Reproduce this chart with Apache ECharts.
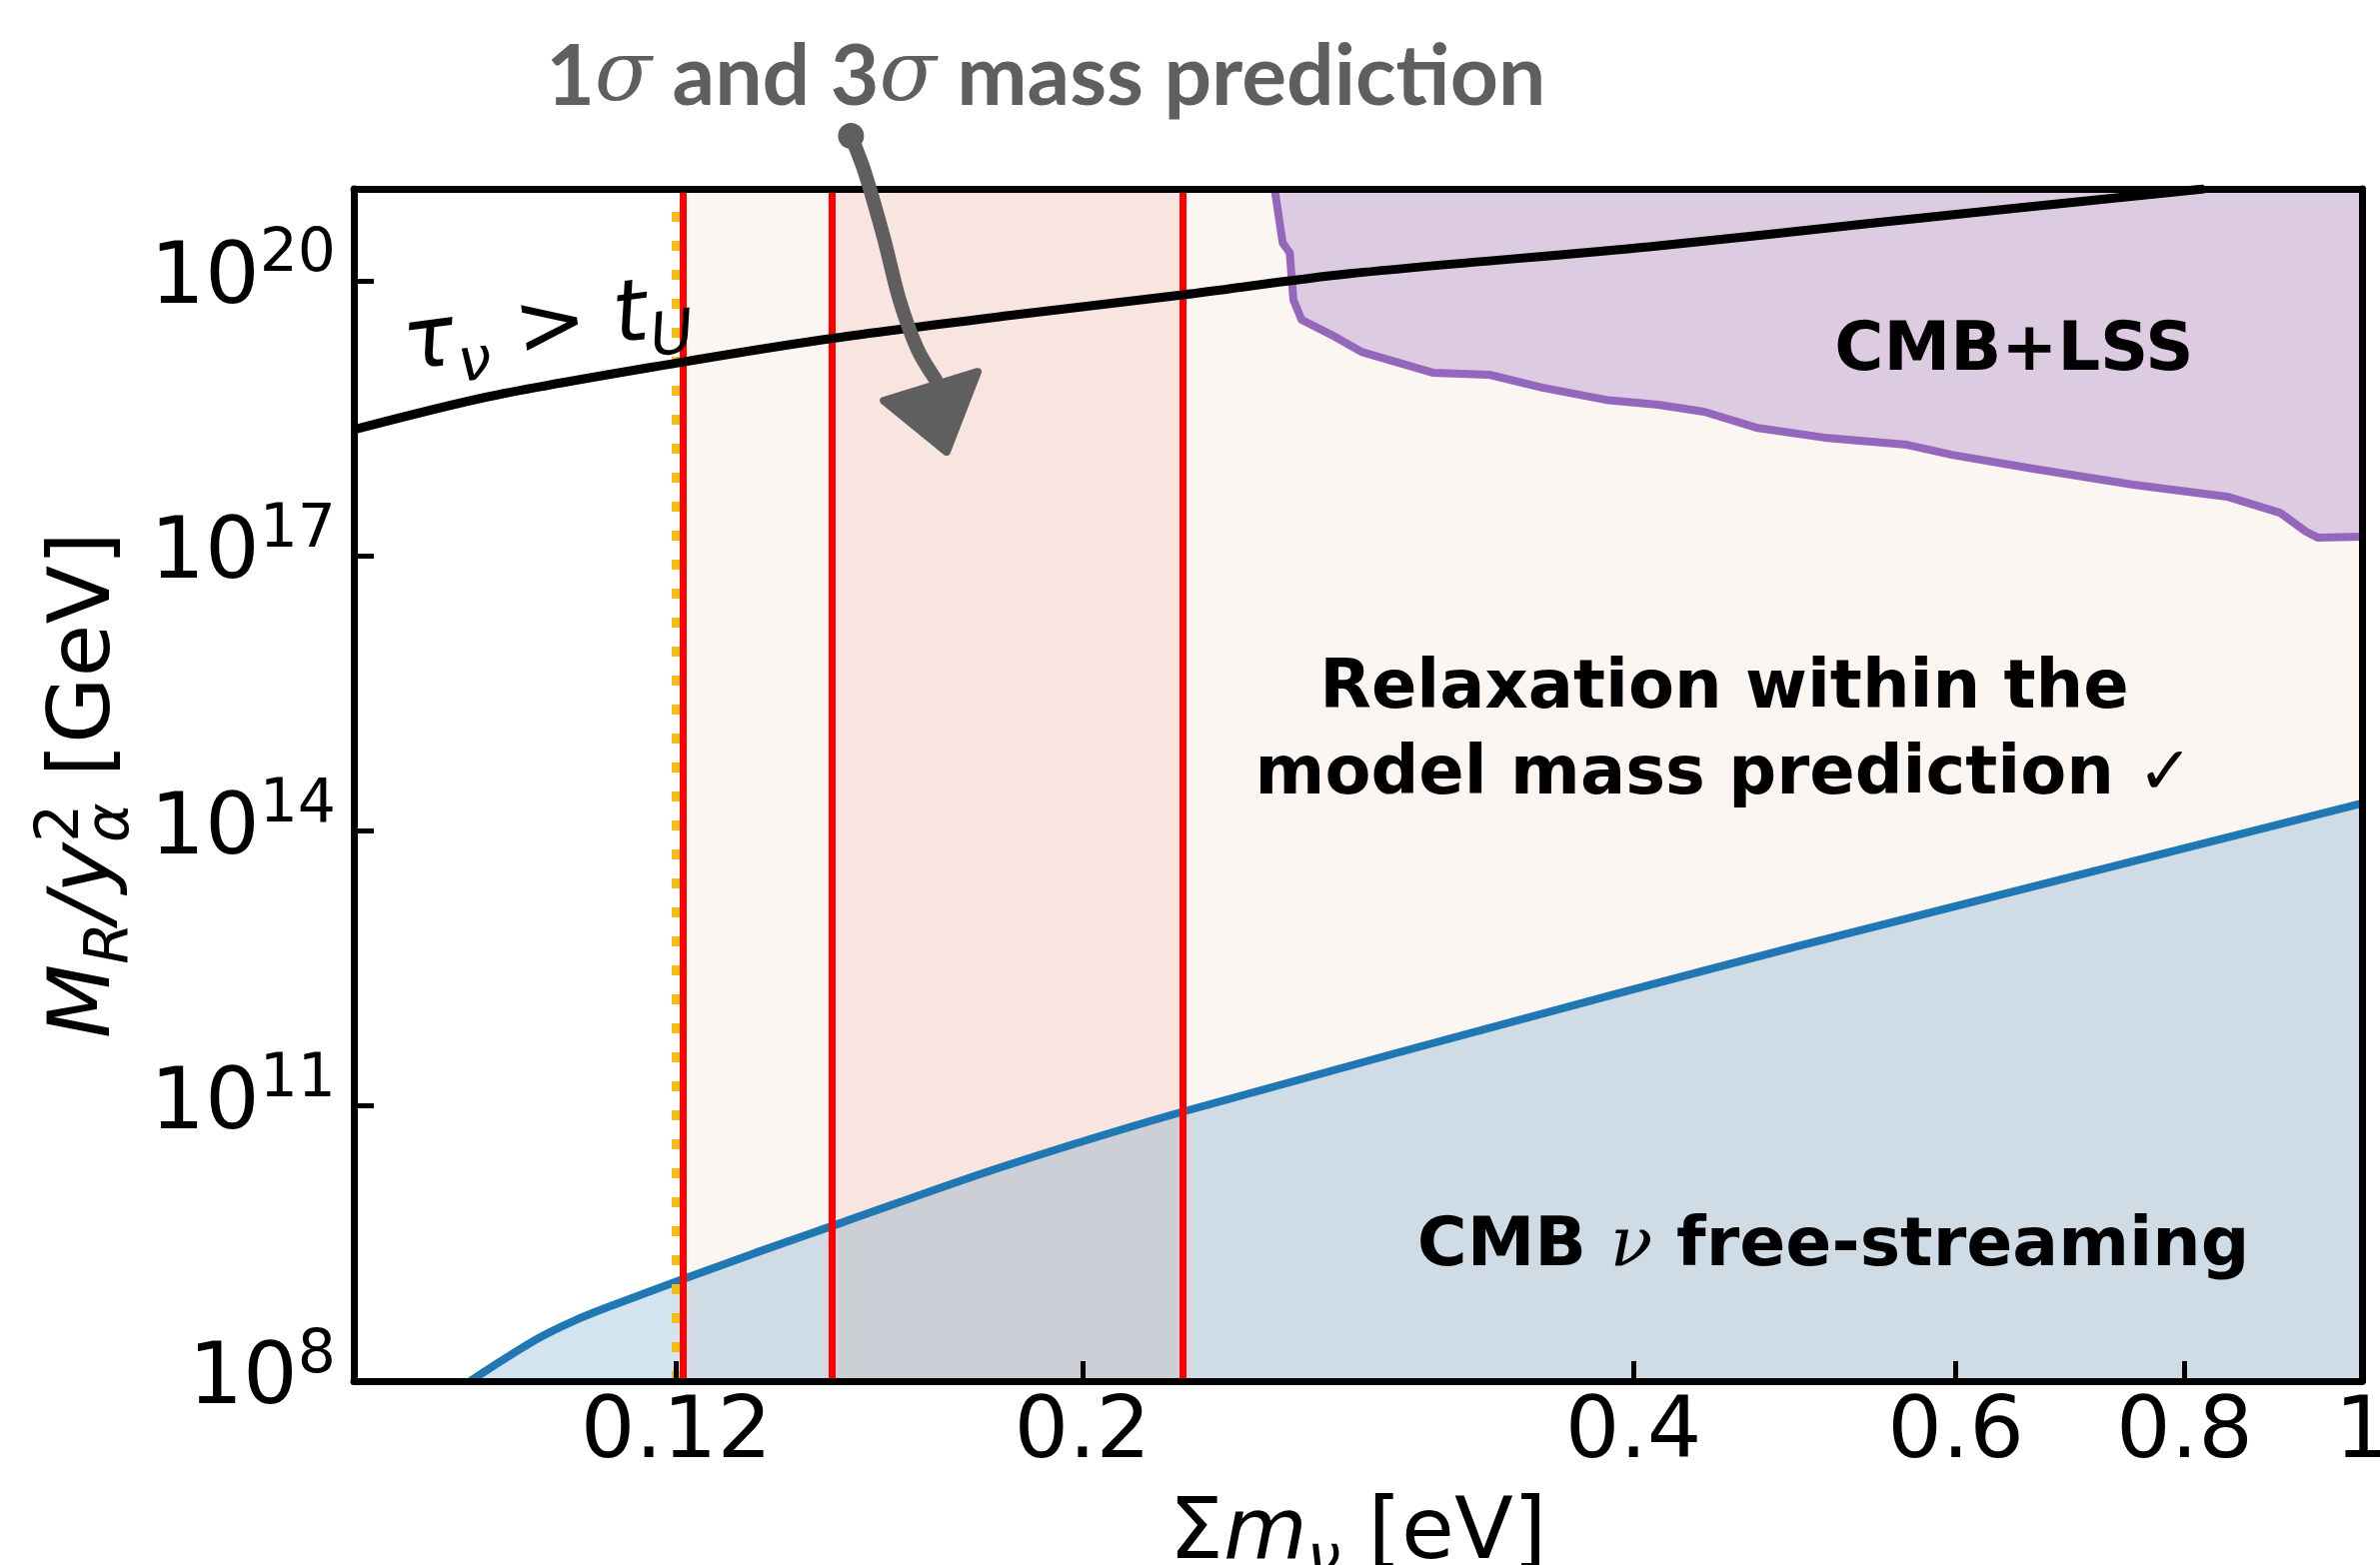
<!DOCTYPE html>
<html>
<head>
<meta charset="utf-8">
<script src="https://cdn.jsdelivr.net/npm/echarts@6/dist/echarts.min.js"></script>
<style>
html, body { margin: 0; padding: 0; background: #ffffff; }
#chart { width: 2381px; height: 1566px; }
</style>
</head>
<body>
<div id="chart"></div>
<script>
// ---------------- data ----------------
const xTickValues = [0.12, 0.2, 0.4, 0.6, 0.8, 1];
const yTickValues = [1e8, 1e11, 1e14, 1e17, 1e20];
const xRange = [0.08, 1];
const yRange = [1e8, 1e21];

// tau_nu > t_U boundary (black)
const lifetimeMass = [0.08, 0.095, 0.12, 0.1461, 0.1818, 0.227, 0.28, 0.409, 0.5434, 0.82];
const lifetimeMR   = [2.37e18, 5.48e18, 1.26e19, 2.35e19, 4.13e19, 7.0e19, 1.19e20, 2.35e20, 4.29e20, 1.0e21];

// CMB nu free-streaming bound (blue)
const freeStreamMass = [0.0926, 0.09694, 0.1011, 0.1054, 0.1099, 0.1210, 0.1327, 0.1474, 0.1802, 0.2274, 0.3875, 0.4928, 1.0];
const freeStreamMR   = [1e8, 1.81e8, 3.0e8, 4.5e8, 6.31e8, 1.29e9, 2.52e9, 5.25e9, 2.12e10, 8.75e10, 1.58e12, 5.57e12, 2.0e14];

// CMB+LSS bound (purple)
const cmbLssMass = [0.2547, 0.2573, 0.2596, 0.2608, 0.2635, 0.2736, 0.2841, 0.3107, 0.3337, 0.3567, 0.3865, 0.4127,
                    0.4372, 0.4668, 0.5085, 0.5643, 0.5972, 0.6563, 0.7499, 0.8439, 0.9020, 0.9320, 0.9462, 1.0];
const cmbLssMR   = [1e21, 2.58e20, 2.01e20, 6.17e19, 3.74e19, 2.56e19, 1.67e19, 9.9e18, 9.4e18, 6.8e18, 5.0e18, 4.43e18,
                    3.72e18, 2.49e18, 1.94e18, 1.62e18, 1.26e18, 9.1e17, 5.96e17, 4.41e17, 2.94e17, 1.83e17, 1.57e17, 1.61e17];

// mass prediction bands and limits
const band3Sigma = [0.121, 1];
const band1Sigma = [0.146, 0.227];
const predictionLines = [0.121, 0.146, 0.227];
const cosmoLimit = 0.12;

// annotation anchors (data coordinates)
const titleAnchor = [0.191, 1.62e22];
const tauAnchor = [0.0852, 1.83e19];
const lssAnchor = [0.6456, 1.63e19];
const relaxAnchor = [0.4484, 1.15e15];
const fsAnchor = [0.5143, 2.88e9];
const arrowShaft = [[0.1495, 3.78e21], [0.1521, 1.53e21], [0.1558, 2.92e20], [0.1589, 6.17e19], [0.1626, 1.76e19], [0.1663, 8.3e18]];
const arrowHead = [[0.1558, 4.9e18], [0.1686, 1.36e18], [0.1753, 1.01e19]];

// ---------------- chart ----------------
const zip = (xs, ys) => xs.map((x, i) => [x, ys[i]]);
const SANS = 'DejaVu Sans';
const HAND = 'Lato, "DejaVu Sans"';
const BODY = '"DejaVu Sans"';

const mathRich = {
  r:   { fontFamily: SANS, fontSize: 86, lineHeight: 110, color: '#000', align: 'left' },
  i:   { fontFamily: SANS, fontSize: 86, lineHeight: 110, fontStyle: 'italic', color: '#000', align: 'left' },
  sb:  { fontFamily: SANS, fontSize: 60, lineHeight: 60, fontStyle: 'italic', verticalAlign: 'bottom', color: '#000', align: 'left' },
  sbz: { fontFamily: SANS, fontSize: 60, lineHeight: 60, fontStyle: 'italic', verticalAlign: 'bottom', width: 0, color: '#000', align: 'left' },
  sp:  { fontFamily: SANS, fontSize: 60, lineHeight: 57, verticalAlign: 'top', color: '#000', align: 'left' }
};

const axisLineStyle = { color: '#000', width: 7 };

const option = {
  animation: false,
  backgroundColor: '#ffffff',
  grid: { left: 354, right: 18, top: 189, bottom: 184, containLabel: false, outerBoundsMode: 'none' },
  xAxis: [
    {
      type: 'log', logBase: 10, min: xRange[0], max: xRange[1], position: 'bottom', z: 50,
      axisLine: { show: true, onZero: false, lineStyle: axisLineStyle },
      axisTick: { show: true, inside: true, length: 20, lineStyle: { color: '#000', width: 5 }, customValues: xTickValues },
      minorTick: { show: false },
      axisLabel: {
        customValues: xTickValues,
        formatter: v => String(+(+v).toPrecision(4)),
        fontFamily: SANS, fontSize: 86, color: '#000', margin: 11
      },
      splitLine: { show: false },
      name: '{r|Σ}{i|m}{sb|ν}{r| [eV]}',
      nameLocation: 'middle', nameGap: 100, nameMoveOverlap: false,
      nameTextStyle: { rich: mathRich }
    },
    {
      type: 'log', logBase: 10, min: xRange[0], max: xRange[1], position: 'top', z: 50,
      axisLine: { show: true, onZero: false, lineStyle: axisLineStyle },
      axisTick: { show: false }, axisLabel: { show: false }, splitLine: { show: false }, minorTick: { show: false }
    }
  ],
  yAxis: [
    {
      type: 'log', logBase: 10, min: yRange[0], max: yRange[1], position: 'left', z: 50,
      axisLine: { show: true, onZero: false, lineStyle: axisLineStyle },
      axisTick: { show: true, inside: true, length: 20, lineStyle: { color: '#000', width: 5 }, customValues: yTickValues },
      minorTick: { show: false },
      axisLabel: {
        customValues: yTickValues,
        formatter: v => '{b|10}{s|' + Math.round(Math.log10(v)) + '}',
        margin: 18,
        rich: {
          b: { fontFamily: SANS, fontSize: 86, lineHeight: 110, color: '#000' },
          s: { fontFamily: SANS, fontSize: 60, lineHeight: 57, verticalAlign: 'top', color: '#000' }
        }
      },
      splitLine: { show: false },
      name: '{i|M}{sb|R}{i|/y}{sbz|α}{sp|2}{r| [GeV]}',
      nameLocation: 'middle', nameGap: 212, nameMoveOverlap: false,
      nameTextStyle: { rich: mathRich }
    },
    {
      type: 'log', logBase: 10, min: yRange[0], max: yRange[1], position: 'right', z: 50,
      axisLine: { show: true, onZero: false, lineStyle: axisLineStyle },
      axisTick: { show: false }, axisLabel: { show: false }, splitLine: { show: false }, minorTick: { show: false }
    }
  ],
  series: [
    {
      name: 'CMB free-streaming', type: 'line', xAxisIndex: 0, yAxisIndex: 0,
      data: zip(freeStreamMass, freeStreamMR),
      showSymbol: false, smooth: 0.3, clip: true, z: 3,
      lineStyle: { color: '#1f77b4', width: 8 },
      areaStyle: { color: '#1f77b4', opacity: 0.2, origin: 'start' },
      markArea: {
        silent: true, z: 1,
        data: [
          [{ xAxis: band3Sigma[0], itemStyle: { color: '#fcf6f3', opacity: 1 } }, { xAxis: band3Sigma[1] }],
          [{ xAxis: band1Sigma[0], itemStyle: { color: '#f9e5e0', opacity: 1 } }, { xAxis: band1Sigma[1] }]
        ]
      },
      markLine: {
        silent: true, symbol: ['none', 'none'], label: { show: false }, z: 5, precision: 6,
        data: [{ xAxis: cosmoLimit, lineStyle: { color: '#f2bf10', width: 9, type: [10, 19] } }]
          .concat(predictionLines.map(v => ({ xAxis: v, lineStyle: { color: '#ff0000', width: 7, type: 'solid' } })))
      }
    },
    {
      name: 'CMB+LSS', type: 'line', xAxisIndex: 0, yAxisIndex: 0,
      data: zip(cmbLssMass, cmbLssMR),
      showSymbol: false, clip: true, z: 3,
      lineStyle: { color: '#9467bd', width: 8, join: 'round' },
      areaStyle: { color: '#9467bd', opacity: 0.3, origin: 'end' }
    },
    {
      name: 'lifetime', type: 'line', xAxisIndex: 0, yAxisIndex: 0,
      data: zip(lifetimeMass, lifetimeMR),
      showSymbol: false, smooth: 0.3, clip: true, z: 10,
      lineStyle: { color: '#000000', width: 9 }
    }
  ]
};

const chart = echarts.init(document.getElementById('chart'), null, { renderer: 'canvas' });
chart.setOption(option);

const P = p => chart.convertToPixel({ xAxisIndex: 0, yAxisIndex: 0 }, p);
const gray = '#5f5f5f';
const t = P(titleAnchor), tau = P(tauAnchor), lss = P(lssAnchor), rel = P(relaxAnchor), fs = P(fsAnchor);

chart.setOption({
  graphic: [
    {
      type: 'polyline', z: 100, silent: true,
      shape: { points: arrowShaft.map(P), smooth: 0.3 },
      style: { stroke: gray, lineWidth: 14, lineCap: 'round', lineJoin: 'round', fill: null }
    },
    {
      type: 'circle', z: 100, silent: true,
      shape: { cx: P(arrowShaft[0])[0], cy: P(arrowShaft[0])[1], r: 13 },
      style: { fill: gray }
    },
    {
      type: 'polygon', z: 100, silent: true,
      shape: { points: arrowHead.map(P) },
      style: { fill: gray, stroke: gray, lineWidth: 8, lineJoin: 'round' }
    },
    {
      type: 'text', z: 100, silent: true, x: t[0], y: t[1],
      style: {
        text: '{a|1}{s|σ}{a| and 3}{s|σ}{a| mass prediction}',
        align: 'center', verticalAlign: 'middle', textAlign: 'center', textVerticalAlign: 'middle', fill: gray,
        rich: {
          a: { fontFamily: HAND, fontWeight: 'bold', fontSize: 84, lineHeight: 94, fill: gray },
          s: { fontFamily: 'DejaVu Serif', fontStyle: 'italic', fontSize: 84, lineHeight: 94, fill: gray }
        }
      }
    },
    {
      type: 'text', z: 100, silent: true, x: tau[0], y: tau[1], rotation: 7.5 * Math.PI / 180,
      style: {
        text: '{i|τ}{sb|ν}{r| > }{i|t}{sb|U}',
        align: 'left', verticalAlign: 'middle', textAlign: 'left', textVerticalAlign: 'middle', fill: '#000',
        rich: {
          r:  { fontFamily: SANS, fontSize: 86, lineHeight: 110, fill: '#000' },
          i:  { fontFamily: SANS, fontSize: 86, lineHeight: 110, fontStyle: 'italic', fill: '#000' },
          sb: { fontFamily: SANS, fontSize: 60, lineHeight: 60, fontStyle: 'italic', verticalAlign: 'bottom', fill: '#000' }
        }
      }
    },
    {
      type: 'text', z: 100, silent: true, x: lss[0], y: lss[1],
      style: {
        text: 'CMB+LSS', fontFamily: BODY, fontWeight: 'bold', fontSize: 67, fill: '#000',
        align: 'center', verticalAlign: 'middle', textAlign: 'center', textVerticalAlign: 'middle'
      }
    },
    {
      type: 'text', z: 100, silent: true, x: rel[0], y: rel[1],
      style: {
        text: 'Relaxation within the\nmodel mass prediction ✓', fontFamily: BODY, fontWeight: 'bold', fontSize: 67, lineHeight: 86,
        fill: '#000', align: 'center', verticalAlign: 'middle', textAlign: 'center', textVerticalAlign: 'middle'
      }
    },
    {
      type: 'text', z: 100, silent: true, x: fs[0], y: fs[1],
      style: {
        text: '{a|CMB }{s|ν}{a| free-streaming}',
        align: 'center', verticalAlign: 'middle', textAlign: 'center', textVerticalAlign: 'middle', fill: '#000',
        rich: {
          a: { fontFamily: BODY, fontWeight: 'bold', fontSize: 68, lineHeight: 90, fill: '#000' },
          s: { fontFamily: 'DejaVu Serif', fontStyle: 'italic', fontSize: 70, lineHeight: 90, fill: '#000' }
        }
      }
    }
  ]
});
</script>
</body>
</html>
